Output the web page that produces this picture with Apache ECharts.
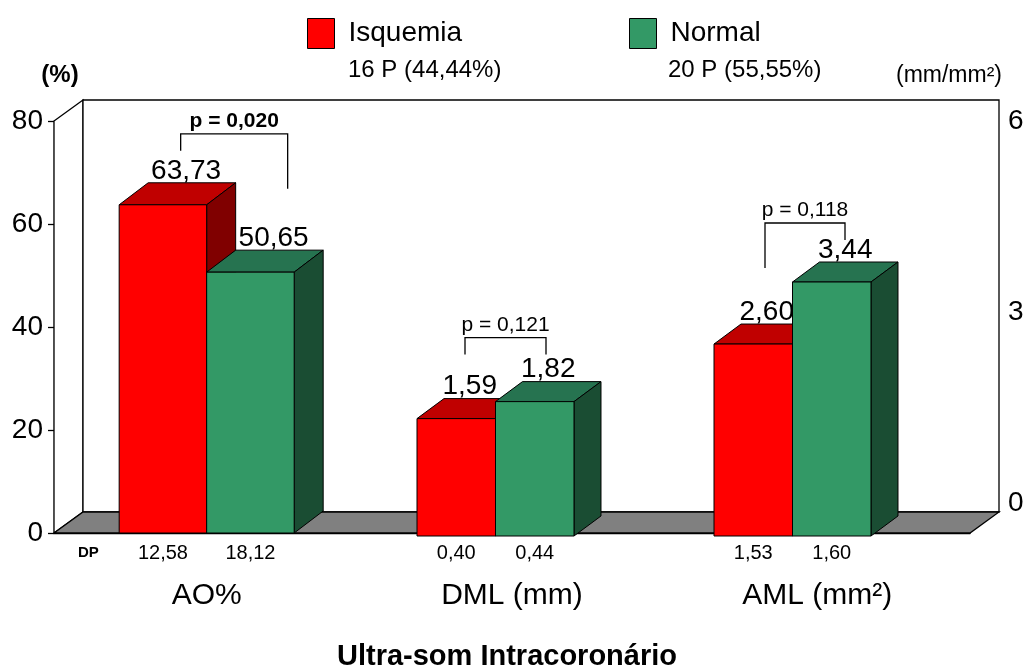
<!DOCTYPE html>
<html>
<head>
<meta charset="utf-8">
<script src="https://cdn.jsdelivr.net/npm/echarts@6/dist/echarts.min.js"></script>
<style>
  html, body { margin: 0; padding: 0; background: #fff; }
  #chart { width: 1033px; height: 669px; }
</style>
</head>
<body>
<div id="chart"></div>
<script>
// ---- data ----
const categories = ['AO%', 'DML (mm)', 'AML (mm²)'];
const seriesNames = ['Isquemia', 'Normal'];
const groupCounts = ['16 P (44,44%)', '20 P (55,55%)'];
const isquemia = [63.73, 1.59, 2.60];
const normal = [50.65, 1.82, 3.44];
const isquemiaDP = [12.58, 0.40, 1.53];
const normalDP = [18.12, 0.44, 1.60];
const pValues = [0.020, 0.121, 0.118];
const leftTicks = [0, 20, 40, 60, 80];   // (%)
const rightTicks = [0, 3, 6];            // (mm/mm²)
// value axis used by each category: 0 = percent, 1 = mm / mm²
const categoryScale = [0, 1, 1];

// ---- look ----
const FONT = '"Liberation Sans", Arial, Helvetica, sans-serif';
const COLORS = [
  { front: '#FF0000', top: '#C00000', side: '#800000' },
  { front: '#339966', top: '#267350', side: '#1A4D33' }
];
// bar width (share of the category band), depth offset, value-label shift
const GEO = [
  { frac: 0.2866, dx: 29, dy: -22, labelShift: 0.8 },
  { frac: 0.2643, dx: 27, dy: -20, labelShift: 0.5 }
];
const FLOOR_DEPTH = [29, -21];
const SD_ROW_Y = 553;
// significance brackets: leg x offsets from the pair centre, rise above the taller bar, leg lengths
const BRACKETS = [
  { left: -26, right: 81, rise: 49, dropL: 17, dropR: 55 },
  { left: -30.5, right: 50.5, rise: 44, dropL: 17, dropR: 17 },
  { left: -27.5, right: 52.5, rise: 39, dropL: 45, dropR: 17 }
];

const fmt = (v, d) => v.toFixed(d).replace('.', ',');

function barGeom(api, cat, value, slot, g) {
  const top = api.coord([cat, value]);
  const base = api.coord([cat, 0]);
  const band = api.size([1, 0])[0];
  const w = band * g.frac;
  const x0 = base[0] - w + slot * w;
  return { x0: x0, x1: x0 + w, yT: top[1], yB: base[1] };
}

function barRenderer(slot, scale) {
  const g = GEO[scale];
  const c = COLORS[slot];
  return function (params, api) {
    const cat = api.value(0), v = api.value(1), sd = api.value(2);
    const b = barGeom(api, cat, v, slot, g);
    const line = { stroke: '#000', lineWidth: 1 };
    return {
      type: 'group',
      children: [
        { type: 'polygon', shape: { points: [[b.x0, b.yT], [b.x0 + g.dx, b.yT + g.dy], [b.x1 + g.dx, b.yT + g.dy], [b.x1, b.yT]] },
          style: Object.assign({ fill: c.top }, line) },
        { type: 'polygon', shape: { points: [[b.x1, b.yT], [b.x1 + g.dx, b.yT + g.dy], [b.x1 + g.dx, b.yB + g.dy], [b.x1, b.yB]] },
          style: Object.assign({ fill: c.side }, line) },
        { type: 'rect', shape: { x: b.x0, y: b.yT, width: b.x1 - b.x0, height: b.yB - b.yT },
          style: Object.assign({ fill: c.front }, line) },
        { type: 'text', z2: 100,
          style: { text: fmt(v, 2), x: (b.x0 + b.x1) / 2 + g.dx * g.labelShift, y: b.yT + g.dy + 2,
                   align: 'center', verticalAlign: 'bottom', fontSize: 28, fontFamily: FONT, fill: '#000' } },
        { type: 'text', z2: 100,
          style: { text: fmt(sd, 2), x: (b.x0 + b.x1) / 2, y: SD_ROW_Y,
                   align: 'center', verticalAlign: 'middle', fontSize: 20, fontFamily: FONT, fill: '#000' } }
      ]
    };
  };
}

function bracketRenderer(scale) {
  const g = GEO[scale];
  return function (params, api) {
    const cat = api.value(0);
    const r = barGeom(api, cat, api.value(1), 0, g);
    const n = barGeom(api, cat, api.value(2), 1, g);
    const p = api.value(3);
    const L = BRACKETS[cat];
    const cx = api.coord([cat, 0])[0];
    const yb = Math.min(r.yT, n.yT) + g.dy - L.rise;
    const xl = cx + L.left, xr = cx + L.right;
    return {
      type: 'group',
      children: [
        { type: 'polyline', shape: { points: [[xl, yb + L.dropL], [xl, yb], [xr, yb], [xr, yb + L.dropR]] },
          style: { stroke: '#000', lineWidth: 1.3, fill: null } },
        { type: 'text', z2: 100,
          style: { text: 'p = ' + fmt(p, 3), x: (xl + xr) / 2, y: yb - 2, align: 'center', verticalAlign: 'bottom',
                   fontSize: 21, fontWeight: p < 0.05 ? 'bold' : 'normal', fontFamily: FONT, fill: '#000' } }
      ]
    };
  };
}

function frameRenderer(params) {
  const cs = params.coordSys;
  const x = cs.x, y = cs.y, w = cs.width, h = cs.height;
  const dx = FLOOR_DEPTH[0], dy = FLOOR_DEPTH[1];
  const line = { stroke: '#000', lineWidth: 1.3 };
  return {
    type: 'group',
    children: [
      { type: 'polygon', shape: { points: [[x, y], [x + dx, y + dy], [x + dx, y + h + dy], [x, y + h]] },
        style: Object.assign({ fill: '#fff' }, line) },
      { type: 'rect', shape: { x: x + dx, y: y + dy, width: w, height: h },
        style: Object.assign({ fill: '#fff' }, line) },
      { type: 'polygon', shape: { points: [[x, y + h], [x + dx, y + h + dy], [x + w + dx, y + h + dy], [x + w, y + h]] },
        style: Object.assign({ fill: '#808080' }, line) }
    ]
  };
}

function seriesData(values, sds, scale) {
  return categories.map((_, i) => [i, values[i], sds[i]]).filter((d) => categoryScale[d[0]] === scale);
}
function bracketData(scale) {
  return categories.map((_, i) => [i, isquemia[i], normal[i], pValues[i]]).filter((d) => categoryScale[d[0]] === scale);
}

const series = [
  { type: 'custom', name: 'frame', xAxisIndex: 0, yAxisIndex: 0, z: 1, silent: true,
    data: [[0, 0]], renderItem: frameRenderer }
];
[0, 1].forEach((scale) => {
  const axis = scale === 0 ? 0 : 2;
  series.push({ type: 'custom', name: seriesNames[0], xAxisIndex: axis, yAxisIndex: axis, z: 3,
    itemStyle: { color: COLORS[0].front }, data: seriesData(isquemia, isquemiaDP, scale),
    encode: { x: 0, y: 1 }, renderItem: barRenderer(0, scale) });
  series.push({ type: 'custom', name: seriesNames[1], xAxisIndex: axis, yAxisIndex: axis, z: 3,
    itemStyle: { color: COLORS[1].front }, data: seriesData(normal, normalDP, scale),
    encode: { x: 0, y: 1 }, renderItem: barRenderer(1, scale) });
  series.push({ type: 'custom', name: 'p' + scale, xAxisIndex: axis, yAxisIndex: axis, z: 4, silent: true,
    data: bracketData(scale), encode: { x: 0, y: 2 }, renderItem: bracketRenderer(scale) });
});

const legendBase = {
  top: 13, itemWidth: 27, itemHeight: 30, icon: 'rect', selectedMode: false,
  itemStyle: { borderColor: '#000', borderWidth: 1 },
  textStyle: { fontSize: 28, fontFamily: FONT, color: '#000', padding: [0, 0, 0, 9] }
};

const option = {
  animation: false,
  backgroundColor: '#fff',
  title: {
    text: 'Ultra-som Intracoronário', left: 332, top: 637,
    textStyle: { fontSize: 29, fontWeight: 'bold', fontFamily: FONT, color: '#000' }
  },
  legend: [
    Object.assign({ data: [seriesNames[0]], left: 302 }, legendBase),
    Object.assign({ data: [seriesNames[1]], left: 624 }, legendBase)
  ],
  graphic: [
    { type: 'text', left: 348, top: 58, style: { text: groupCounts[0], fontSize: 24, fontFamily: FONT, fill: '#000' } },
    { type: 'text', left: 668, top: 58, style: { text: groupCounts[1], fontSize: 24, fontFamily: FONT, fill: '#000' } },
    { type: 'text', left: 78, top: 545, style: { text: 'DP', fontSize: 15, fontWeight: 'bold', fontFamily: FONT, fill: '#000' } }
  ],
  grid: [
    { left: 54, right: 63, top: 121, bottom: 136 },
    { left: 54, right: 33, top: 121, bottom: 166 },
    { left: 50, right: 92, top: 93, bottom: 133 }
  ],
  xAxis: [
    { gridIndex: 0, type: 'category', data: categories, boundaryGap: true,
      axisLine: { lineStyle: { color: '#000', width: 1.3 } },
      axisTick: { length: 7, lineStyle: { color: '#000', width: 1.3 } },
      axisLabel: { fontSize: 30, margin: 48, color: '#000', fontFamily: FONT } },
    { gridIndex: 1, type: 'category', data: categories, show: false },
    { gridIndex: 2, type: 'category', data: categories, show: false }
  ],
  yAxis: [
    { gridIndex: 0, type: 'value', min: leftTicks[0], max: leftTicks[leftTicks.length - 1],
      interval: leftTicks[1] - leftTicks[0],
      name: '(%)', nameLocation: 'end', nameGap: 34,
      nameTextStyle: { fontSize: 24, fontWeight: 'bold', fontFamily: FONT, color: '#000', padding: [0, 0, 0, 12] },
      axisLine: { show: true, lineStyle: { color: '#000', width: 1.3 } },
      axisTick: { show: true, length: 6, lineStyle: { color: '#000', width: 1.3 } },
      axisLabel: { fontSize: 28, margin: 11, color: '#000', fontFamily: FONT },
      splitLine: { show: false } },
    { gridIndex: 1, type: 'value', position: 'right', min: rightTicks[0], max: rightTicks[rightTicks.length - 1],
      interval: rightTicks[1] - rightTicks[0],
      name: '(mm/mm²)', nameLocation: 'end', nameGap: 34,
      nameTextStyle: { fontSize: 23, fontFamily: FONT, color: '#000', align: 'center', padding: [0, 102, 0, 0] },
      axisLine: { show: false }, axisTick: { show: false },
      axisLabel: { fontSize: 28, margin: 8, color: '#000', fontFamily: FONT },
      splitLine: { show: false } },
    { gridIndex: 2, type: 'value', min: rightTicks[0], max: rightTicks[rightTicks.length - 1], show: false,
      splitLine: { show: false } }
  ],
  series: series
};

const chart = echarts.init(document.getElementById('chart'), null, { renderer: 'canvas' });
chart.setOption(option);
</script>
</body>
</html>
